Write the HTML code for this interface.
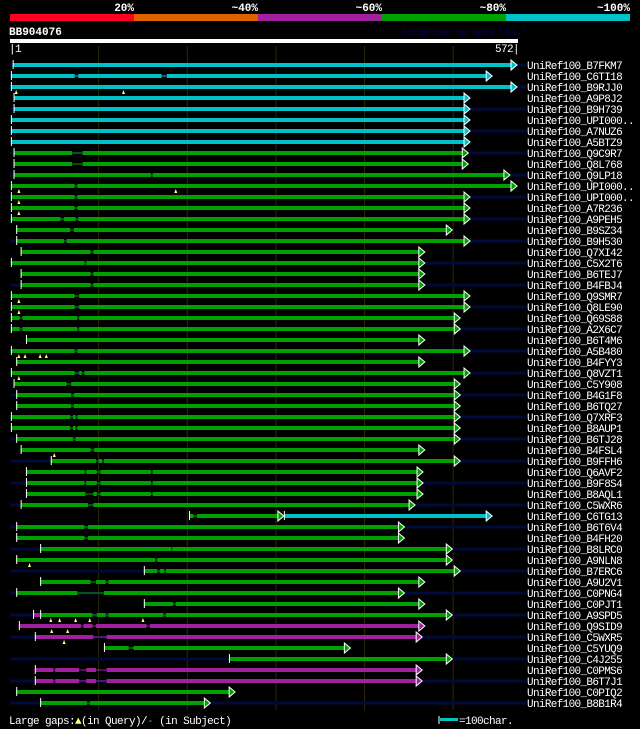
<!DOCTYPE html>
<html><head><meta charset="utf-8"><style>
html,body{margin:0;padding:0;background:#000;}
svg{display:block;}
text{font-family:"Liberation Mono",monospace;}
</style></head><body>
<svg id="c" width="640" height="729" xmlns="http://www.w3.org/2000/svg">
<rect x="0" y="0" width="640" height="729" fill="#000"/>
<g>
<rect x="10" y="14" width="124" height="7" fill="#ff0022"/>
<rect x="134" y="14" width="124" height="7" fill="#e06000"/>
<rect x="258" y="14" width="124" height="7" fill="#a020a0"/>
<rect x="382" y="14" width="124" height="7" fill="#00a000"/>
<rect x="506" y="14" width="124" height="7" fill="#00c0c8"/>
<g font-size="11" font-weight="bold" fill="#fff" text-anchor="end">
<text x="134" y="11">20%</text>
<text x="258" y="11">~40%</text>
<text x="382" y="11">~60%</text>
<text x="506" y="11">~80%</text>
<text x="630" y="11">~100%</text>
</g></g>
<text x="9" y="35" font-size="11" font-weight="bold" fill="#fff">BB904076</text>
<text x="402" y="35" font-size="9" fill="#000050">AlignView.pm Beta rel.7</text>
<rect x="10" y="39" width="508" height="4" fill="#fff"/>
<text x="9" y="52" font-size="11" fill="#fff" letter-spacing="-0.6">|1</text>
<text x="519" y="52" font-size="11" fill="#fff" text-anchor="end" letter-spacing="-0.6">572|</text>
<g id="grid"></g>
<g id="rows"></g>
<g>
<text x="9" y="724" font-size="11" fill="#fff" letter-spacing="-0.6">Large gaps:<tspan fill="#ffff80">▲</tspan>(in Query)/<tspan fill="#00c0c8">-</tspan> (in Subject)</text>
<line x1="439" y1="716" x2="439" y2="724" stroke="#fff" stroke-width="1"/>
<rect x="440" y="718" width="18" height="3" fill="#00c0c8"/>
<text x="459" y="724" font-size="11" fill="#fff" letter-spacing="-0.6">=100char.</text>
</g>
</svg>
<script>
const names=["B7FKM7","C6TI18","B9RJJ0","A9P8J2","B9H739","UPI000..","A7NUZ6","A5BTZ9","Q9C9R7","Q8L768","Q9LP18","UPI000..","UPI000..","A7R236","A9PEH5","B9SZ34","B9H530","Q7XI42","C5X2T6","B6TEJ7","B4FBJ4","Q9SMR7","Q8LE90","Q69S88","A2X6C7","B6T4M6","A5B480","B4FYY3","Q8VZT1","C5Y908","B4G1F8","B6TQ27","Q7XRF3","B8AUP1","B6TJ28","B4FSL4","B9FFH6","Q6AVF2","B9F8S4","B8AQL1","C5WXR6","C6TG13","B6T6V4","B4FH20","B8LRC0","A9NLN8","B7ERC6","A9U2V1","C0PNG4","C0PJT1","A9SPD5","Q9SID9","C5WXR5","C5YUQ9","C4J255","C0PMS6","B6T7J1","C0PIQ2","B8B1R4"];
const starts=[3,1,1,4,4,1,1,1,4,4,4,1,1,1,1,7,7,12,1,12,12,1,1,1,1,18,1,7,1,4,7,7,1,1,7,12,46,18,18,18,12,202,7,7,34,7,151,34,7,151,26,10,28,106,247,28,28,7,34];
const ends=[572,544,572,519,519,519,519,519,517,517,564,572,519,519,519,499,519,468,468,468,468,519,519,508,508,468,519,468,519,508,508,508,508,508,508,468,508,466,466,466,457,544,445,445,499,499,508,468,445,468,499,468,465,384,499,465,465,254,226];
const colors=["c","c","c","c","c","c","c","c","g","g","g","g","g","g","g","g","g","g","g","g","g","g","g","g","g","g","g","g","g","g","g","g","g","g","g","g","g","g","g","g","g","g","g","g","g","g","g","g","g","g","p","p","p","g","g","p","p","g","g"];
const gaps=[[],[[73,77],[171,177]],[],[],[],[],[],[],[[70,82]],[[70,82]],[[159,161]],[[73,76]],[[73,76]],[[73,76]],[[57,61],[74,77]],[[68,72]],[[61,64]],[[91,94]],[[84,86]],[[91,94]],[[91,94]],[[73,78]],[[73,78]],[[11,14],[76,78]],[[11,14],[76,78]],[],[[73,76]],[],[[73,78],[81,84]],[[64,69]],[[69,72]],[[69,72]],[[68,71],[74,76]],[[68,71],[74,76]],[[71,74]],[[91,95]],[[97,100],[104,106]],[[84,86],[98,102],[159,161]],[[84,86],[98,102],[159,161]],[[85,94],[98,102],[159,161]],[[88,94]],[[207,211]],[[84,88]],[[84,88]],[[182,183]],[[164,166]],[[166,169],[174,176]],[[91,97],[108,111]],[[76,106]],[[184,187]],[[93,98],[108,111],[173,176]],[[80,83],[93,97],[154,158]],[[94,109]],[[134,139]],[],[[49,51],[78,86],[97,109]],[[49,51],[78,86],[97,109]],[],[[87,90]]];
const marks=[[],[],[7,128],[],[],[],[],[],[],[],[],[10,187],[10],[10],[],[],[],[],[],[],[],[10],[10],[],[],[],[10,17,34,41],[],[10],[],[],[],[],[],[],[50],[],[],[],[],[],[],[],[],[],[22],[],[],[],[],[46,56,74,90,150],[47,65],[61],[],[],[],[],[],[]];
// split: row index -> query position where colour changes, colour of remainder, whether an arrow marks the change
const splitRows=[41,50];
const splitPos=[309,34];
const splitCols=["c","g"];
const splitArrow=[true,false];

const COL={c:"#00c0c8",g:"#00a000",p:"#a020a0"};
const NS="http://www.w3.org/2000/svg";
const X=q=>10+q*507/572;
const Y=i=>65+i*11;
function mk(tag,attrs,parent){const e=document.createElementNS(NS,tag);for(const k in attrs)e.setAttribute(k,attrs[k]);parent.appendChild(e);return e;}
const grid=document.getElementById('grid');
[100,200,300,400,500].forEach(q=>{
  const l=mk('line',{x1:X(q),x2:X(q),y1:46,y2:710,stroke:'#2a2a00','stroke-width':1},grid);
  
  
});
const rows=document.getElementById('rows');
names.forEach((n,i)=>{
  const y=Y(i);
  const g=mk('g',{},rows);
  
  
  if(i%2===0){mk('rect',{x:10,y:y-1.5,width:516,height:3,fill:'#000a3a'},g);}
  const s=starts[i],e=ends[i];
  let segs=[[s,e,colors[i]]];
  const si=splitRows.indexOf(i);
  if(si>=0){segs=[[s,splitPos[si],colors[i]==='c'?'g':colors[i]],[splitPos[si],e,splitCols[si]]];}
  segs.forEach(([a,b,c],k)=>{
    let pos=a;
    const gs=gaps[i].filter(gp=>gp[0]>=a&&gp[1]<=b);
    gs.forEach(gp=>{
      if(gp[0]>pos)mk('rect',{x:X(pos),y:y-2,width:X(gp[0])-X(pos),height:4,fill:COL[c]},g);
      mk('rect',{x:X(gp[0]),y:y-0.5,width:X(gp[1])-X(gp[0]),height:1,fill:COL[c]},g);
      pos=gp[1];
    });
    const hasArrow=(k===segs.length-1)||(si>=0&&splitArrow[si]);
    const endX=hasArrow?X(b)-6:X(b);
    mk('rect',{x:X(pos),y:y-2,width:Math.max(0,endX-X(pos)),height:4,fill:COL[c]},g);
    mk('line',{x1:X(a)+0.5,x2:X(a)+0.5,y1:y-5,y2:y+4,stroke:'#fff','stroke-width':1},g);
    if(si>=0&&k===0&&splitArrow[si]){mk('polygon',{points:`${X(b)-6},${y-5} ${X(b)},${y} ${X(b)-6},${y+5}`,fill:COL[c],stroke:'#fff','stroke-width':1},g);}
  });
  const lastC=segs[segs.length-1][2];
  const ar=mk('polygon',{points:`${X(e)-6},${y-5} ${X(e)},${y} ${X(e)-6},${y+5}`,fill:COL[lastC],stroke:'#fff','stroke-width':1},g);
  
  
  marks[i].forEach(m=>{
    const t=mk('polygon',{points:`${X(m)-1.5},${y+7} ${X(m)},${y+3} ${X(m)+1.5},${y+7}`,fill:'#ffff80'},g);
    
    
  });
  const t=mk('text',{x:527,y:y+4,'font-size':11,fill:'#fff','letter-spacing':'-0.66'},g);
  t.textContent='UniRef100_'+n;
  
  
});
</script>
</body></html>
